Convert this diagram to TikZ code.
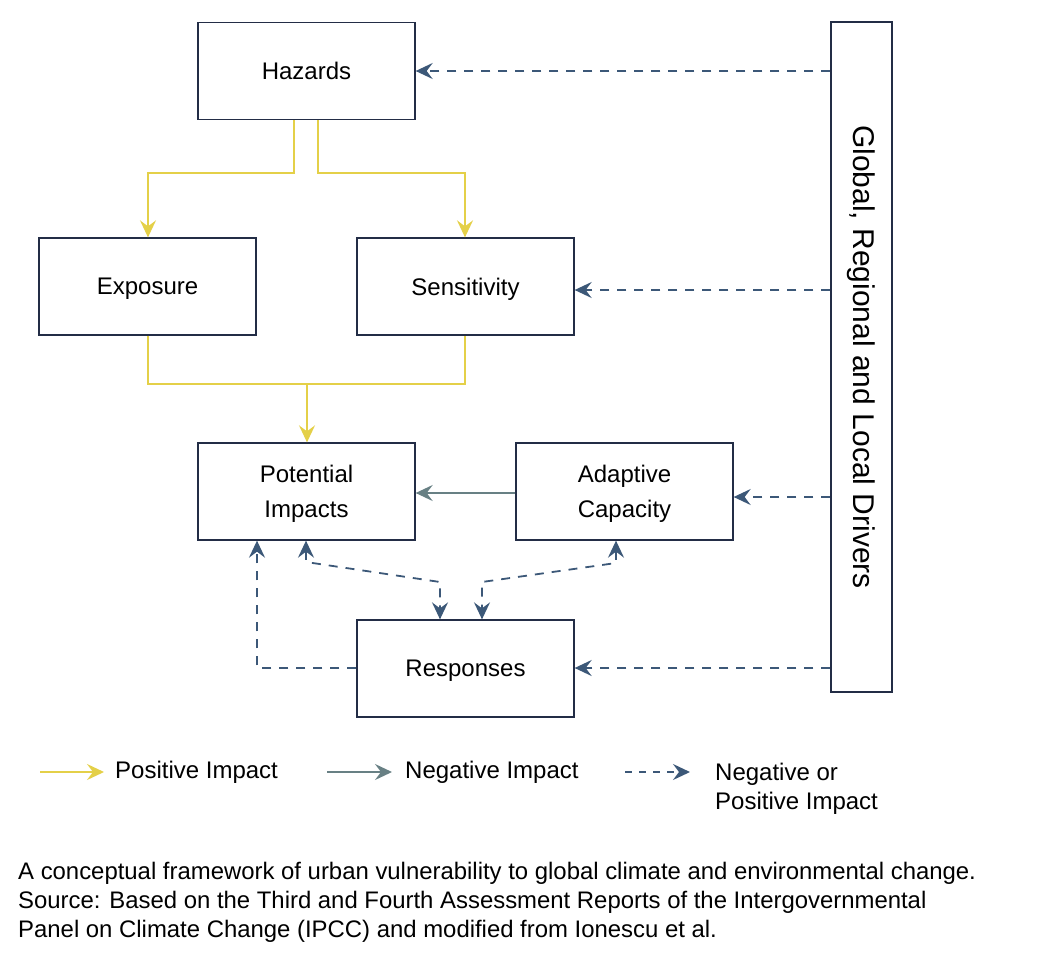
\documentclass[tikz,border=0pt]{standalone}
\usepackage{fontspec}
\setmainfont{Liberation Sans}
\usetikzlibrary{arrows.meta,calc}
\definecolor{boxc}{RGB}{35,45,70}
\definecolor{yel}{RGB}{228,208,72}
\definecolor{grayc}{RGB}{104,128,132}
\definecolor{navy}{RGB}{60,88,120}
\tikzset{
  x=1pt,y=-1pt,
  box/.style={draw=boxc,line width=1.3pt,minimum width=217pt,minimum height=97pt,inner sep=0pt,align=center,text depth=0pt,font=\fontsize{24}{35}\selectfont},
  yarrow/.style={draw=yel,line width=1.8pt,-{Stealth[length=17pt,width=16pt,inset=6pt]}},
  yline/.style={draw=yel,line width=1.8pt},
  garrow/.style={draw=grayc,line width=1.8pt,-{Stealth[length=17pt,width=16pt,inset=6pt]}},
  darrow/.style={draw=navy,line width=1.8pt,dash pattern=on 9pt off 8pt,-{Stealth[length=17pt,width=16pt,inset=6pt]}},
  ddarrow/.style={draw=navy,line width=1.8pt,dash pattern=on 9pt off 8pt,{Stealth[length=17pt,width=16pt,inset=6pt]}-{Stealth[length=17pt,width=16pt,inset=6pt]}},
  legtext/.style={anchor=west,font=\fontsize{24}{29}\selectfont,inner sep=0pt,align=left},
}
\begin{document}
\begin{tikzpicture}
\useasboundingbox (0,0) rectangle (1037,978);
\node[box] (haz) at (306.5,71) {Hazards};
\node[box] (exp) at (147.5,286.5) {Exposure};
\node[box] (sen) at (465.5,286.5) {Sensitivity};
\node[box] (pot) at (306.5,491.5) {Potential\\Impacts};
\node[box] (ada) at (624.5,491.5) {Adaptive\\Capacity};
\node[box] (res) at (465.5,668.5) {Responses};
\node[draw=boxc,line width=1.3pt,minimum width=61pt,minimum height=670pt,inner sep=0pt] (drv) at (861.5,357) {};
\node[rotate=-90,font=\fontsize{30}{34}\selectfont] (drvt) at (drv.center) {Global, Regional and Local Drivers};
% yellow
\draw[yarrow] (haz.south -| 294,0) |- (148,173) -- (exp.north -| 148,0);
\draw[yarrow] (haz.south -| 318,0) |- (465,173) -- (sen.north -| 465,0);
\draw[yline] (exp.south -| 148,0) |- (465,384) -- (sen.south -| 465,0);
\draw[yarrow] (307,384) -- (pot.north -| 307,0);
% gray
\draw[garrow] (ada.west |- 0,493) -- (pot.east |- 0,493);
% dashed from drivers
\draw[darrow] (drv.west |- 0,71) -- (haz.east |- 0,71);
\draw[darrow] (drv.west |- 0,290) -- (sen.east |- 0,290);
\draw[darrow] (drv.west |- 0,497) -- (ada.east |- 0,497);
\draw[darrow] (drv.west |- 0,668) -- (res.east |- 0,668);
% responses loops
\draw[darrow] (res.west |- 0,668) -| (pot.south -| 257,0);
\draw[ddarrow] (pot.south -| 306,0) -- (306,562) -- (440,582) -- (res.north -| 440,0);
\draw[ddarrow] (ada.south -| 616,0) -- (616,563) -- (482,582) -- (res.north -| 482,0);
% legend
\coordinate (l1a) at (40,772); \coordinate (l1b) at (104,772);
\coordinate (l2a) at (327,772); \coordinate (l2b) at (392,772);
\coordinate (l3a) at (625,772); \coordinate (l3b) at (690,772);
\draw[yarrow] (l1a) -- (l1b);
\draw[garrow] (l2a) -- (l2b);
\draw[darrow,dash pattern=on 7pt off 7pt] (l3a) -- (l3b);
\node[legtext] (t1) at (115,772) {Positive Impact};
\node[legtext] (t2) at (405,772) {Negative Impact};
\node[legtext,anchor=base west] (t3) at (715,809) {Negative or\\Positive Impact};
% caption
\node[anchor=base west,inner sep=0pt,align=left,font=\fontsize{23.9}{29}\selectfont] (cap) at (18,937) {A conceptual framework of urban vulnerability to global climate and environmental change.\\Source: Based on the Third and Fourth Assessment Reports of the Intergovernmental\\Panel on Climate Change (IPCC) and modified from Ionescu et al.};
\end{tikzpicture}
\end{document}
